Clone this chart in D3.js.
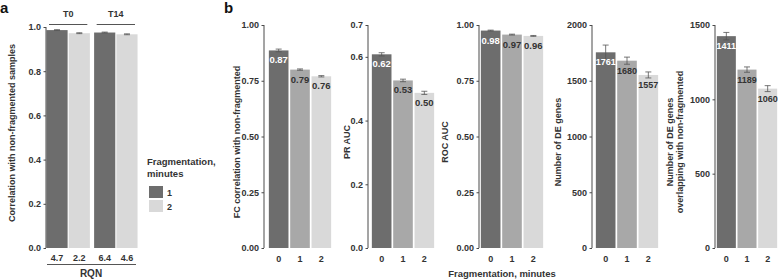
<!DOCTYPE html>
<html lang="en">
<head>
<meta charset="UTF-8">
<title>Fragmentation bars</title>
<style>
    body { margin: 0; background: #fff; }
    svg { display: block; font-family: "Liberation Sans", Arial, sans-serif; font-weight: bold; }
    text { fill: #333; }
</style>
</head>
<body>
<div id="chart"></div>
<script src="https://d3js.org/d3.v7.min.js"></script>
<script>
// ---- data ----
// panel a
const aFacets = ['T0', 'T14'];
const aFrag = ['1', '2'];
const aValues = [[0.986, 0.972], [0.975, 0.967]];
const aErr = [[0.002, 0.002], [0.002, 0.002]];
const aRqn = [['4.7', '2.2'], ['6.4', '4.6']];
const aTicks = [0, 0.2, 0.4, 0.6, 0.8, 1.0];

// panel b
const minutes = ['0', '1', '2'];
const fcCorr = [0.886, 0.8, 0.77];
const fcErr = [0.006, 0.003, 0.003];
const fcLabels = ['0.87', '0.79', '0.76'];
const prAuc = [0.608, 0.526, 0.487];
const prErr = [0.005, 0.004, 0.005];
const prLabels = ['0.62', '0.53', '0.50'];
const rocAuc = [0.975, 0.957, 0.951];
const rocErr = [0.002, 0.002, 0.002];
const rocLabels = ['0.98', '0.97', '0.96'];
const deGenes = [1755, 1680, 1552];
const deErr = [65, 32, 27];
const deLabels = ['1761', '1680', '1557'];
const overlap = [1425, 1200, 1072];
const overlapErr = [25, 18, 20];
const overlapLabels = ['1411', '1189', '1060'];

const W = 778, H = 279;
const fragColor = d3.scaleOrdinal().domain(aFrag).range(['#6d6d6d', '#d9d9d9']);
const minColor = d3.scaleOrdinal().domain(minutes).range(['#6d6d6d', '#a8a8a8', '#d9d9d9']);
const axisColor = '#4a4a4a';

const svg = d3.select('#chart').append('svg')
    .attr('width', W).attr('height', H);

svg.append('text').attr('x', 0).attr('y', 13).text('a')
    .style('font-size', '15px').style('fill', '#111');
svg.append('text').attr('x', 224).attr('y', 13).text('b')
    .style('font-size', '15px').style('fill', '#111');

function yAxis(g, y, x0, ticks, fmt) {
    const ax = g.append('g').attr('transform', `translate(${x0},0)`)
        .call(d3.axisLeft(y).tickValues(ticks).tickFormat(d3.format(fmt)).tickSize(2.5).tickPadding(2.5));
    ax.select('.domain').attr('stroke', axisColor).attr('d', `M0,${y(ticks[ticks.length - 1])}V${y(0)}`);
    ax.selectAll('.tick line').attr('stroke', axisColor);
    ax.selectAll('.tick text').attr('fill', '#333').style('font-size', '9px')
        .attr('font-family', null).style('font-weight', 'bold');
}

function yTitle(x, yc, lines) {
    const t = svg.append('text')
        .attr('transform', `translate(${x},${yc}) rotate(-90)`)
        .attr('text-anchor', 'middle')
        .style('font-size', '9px');
    lines.forEach((l, i) => {
        t.append('tspan').attr('x', 0).attr('dy', i === 0 ? 0 : 10).text(l);
    });
}

function errBar(g, x, y, v, e, w) {
    g.append('path')
        .attr('d', `M${x - w},${y(v + e)}H${x + w}M${x},${y(v + e)}V${y(v - e)}M${x - w},${y(v - e)}H${x + w}`)
        .attr('stroke', '#555').attr('stroke-width', 0.8).attr('fill', 'none');
}

// ---- panel a ----
{
    const g = svg.append('g');
    const y = d3.scaleLinear().domain([0, 1]).range([248, 27]);
    const fx = d3.scaleBand().domain(aFacets).range([46, 138]).paddingInner(0.07);
    const ix = d3.scaleBand().domain(aFrag).range([0, fx.bandwidth()]).paddingInner(0.05).paddingOuter(0.02);

    aFacets.forEach((f, fi) => {
        const fg = g.append('g').attr('transform', `translate(${fx(f)},0)`);
        fg.selectAll('rect').data(aFrag).enter().append('rect')
            .attr('x', d => ix(d))
            .attr('y', (d, i) => y(aValues[fi][i]))
            .attr('width', ix.bandwidth())
            .attr('height', (d, i) => y(0) - y(aValues[fi][i]))
            .attr('fill', d => fragColor(d));
        aFrag.forEach((d, i) => errBar(fg, ix(d) + ix.bandwidth() / 2, y, aValues[fi][i], aErr[fi][i], 3));
        // strip label with line
        fg.append('text').attr('x', fx.bandwidth() / 2).attr('y', 17)
            .attr('text-anchor', 'middle').style('font-size', '9px').text(f);
        fg.append('line').attr('x1', 3).attr('x2', fx.bandwidth() - 3)
            .attr('y1', 24.5).attr('y2', 24.5).attr('stroke', '#555');
        fg.selectAll('.rqn').data(aFrag).enter().append('text').attr('class', 'rqn')
            .attr('x', d => ix(d) + ix.bandwidth() / 2).attr('y', 261)
            .attr('text-anchor', 'middle').style('font-size', '9px')
            .text((d, i) => aRqn[fi][i]);
    });
    g.append('line').attr('x1', 47).attr('x2', 136).attr('y1', 264.5).attr('y2', 264.5).attr('stroke', '#555');
    g.append('text').attr('x', 91).attr('y', 277).attr('text-anchor', 'middle')
        .style('font-size', '10px').text('RQN');

    yAxis(g, y, 46, aTicks, '.1f');
    yTitle(15, 133, ['Correlation with non-fragmented samples']);

    // legend
    const lg = svg.append('g').attr('transform', 'translate(147,0)');
    lg.append('text').attr('y', 165).style('font-size', '9.5px').text('Fragmentation,');
    lg.append('text').attr('y', 177).style('font-size', '9.5px').text('minutes');
    aFrag.forEach((d, i) => {
        lg.append('rect').attr('x', 2).attr('y', 186 + i * 14).attr('width', 14).attr('height', 12)
            .attr('fill', fragColor(d));
        lg.append('text').attr('x', 20).attr('y', 195.5 + i * 14).style('font-size', '9px').text(d);
    });
}

// ---- panel b ----
const panels = [
    { vals: fcCorr, err: fcErr, labels: fcLabels, max: 1, ticks: [0, 0.25, 0.5, 0.75, 1], fmt: '.2f',
      axisX: 264, barX: 268, barW: 64, labelSize: 9.5, title: ['FC correlation with non-fragmented'], titleX: 240 },
    { vals: prAuc, err: prErr, labels: prLabels, max: 0.7, ticks: [0, 0.2, 0.4, 0.6, 0.7], fmt: '.1f',
      axisX: 368, barX: 371, barW: 64, labelSize: 9.5, title: ['PR AUC'], titleX: 350 },
    { vals: rocAuc, err: rocErr, labels: rocLabels, max: 1, ticks: [0, 0.25, 0.5, 0.75, 1], fmt: '.2f',
      axisX: 479, barX: 480, barW: 64, labelSize: 9.5, title: ['ROC AUC'], titleX: 448 },
    { vals: deGenes, err: deErr, labels: deLabels, max: 2000, ticks: [0, 500, 1000, 1500, 2000], fmt: 'd',
      axisX: 592, barX: 595, barW: 64, labelSize: 9, title: ['Number of DE genes'], titleX: 561 },
    { vals: overlap, err: overlapErr, labels: overlapLabels, max: 1500, ticks: [0, 500, 1000, 1500], fmt: 'd',
      axisX: 715, barX: 716, barW: 62, labelSize: 9, title: ['Number of DE genes', 'overlapping with non-fragmented'], titleX: 673 }
];

panels.forEach(p => {
    const g = svg.append('g');
    const y = d3.scaleLinear().domain([0, p.max]).range([248, 25]);
    const x = d3.scaleBand().domain(minutes).range([p.barX, p.barX + p.barW])
        .paddingInner(0.08).paddingOuter(0.04);

    g.selectAll('rect').data(minutes).enter().append('rect')
        .attr('x', d => x(d))
        .attr('y', (d, i) => y(p.vals[i]))
        .attr('width', x.bandwidth())
        .attr('height', (d, i) => y(0) - y(p.vals[i]))
        .attr('fill', d => minColor(d));
    minutes.forEach((d, i) => errBar(g, x(d) + x.bandwidth() / 2, y, p.vals[i], p.err[i], 3));

    g.selectAll('.val').data(minutes).enter().append('text').attr('class', 'val')
        .attr('x', d => x(d) + x.bandwidth() / 2)
        .attr('y', (d, i) => y(p.vals[i]) + 13)
        .attr('text-anchor', 'middle')
        .style('font-size', p.labelSize + 'px')
        .style('fill', (d, i) => i === 0 ? '#fff' : '#333')
        .text((d, i) => p.labels[i]);

    g.selectAll('.xl').data(minutes).enter().append('text').attr('class', 'xl')
        .attr('x', d => x(d) + x.bandwidth() / 2).attr('y', 261.5)
        .attr('text-anchor', 'middle').style('font-size', '9px').text(d => d);

    yAxis(g, y, p.axisX, p.ticks, p.fmt);
    yTitle(p.titleX, 142, p.title);
});

svg.append('text').attr('x', 502).attr('y', 277).attr('text-anchor', 'middle')
    .style('font-size', '9.5px').text('Fragmentation, minutes');
</script>
</body>
</html>
